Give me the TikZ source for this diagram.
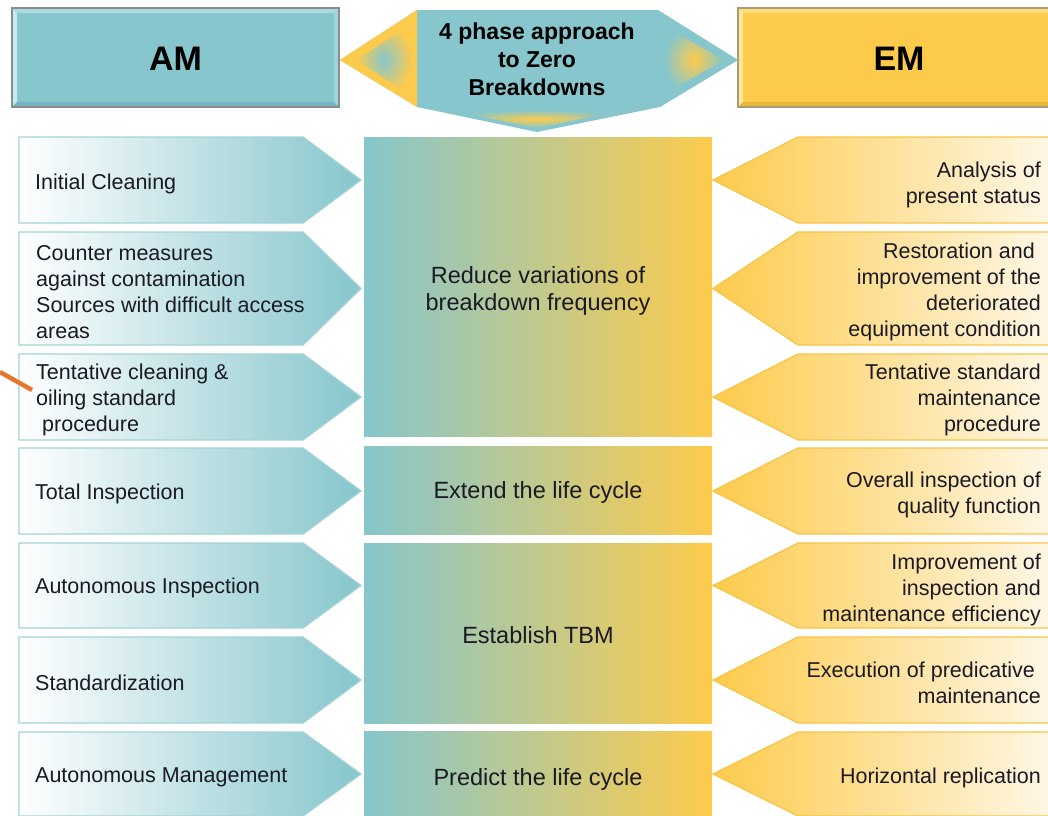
\documentclass[tikz,border=0pt]{standalone}
\usepackage{fontspec}
\setmainfont{Liberation Sans}
\definecolor{tealc}{HTML}{86C6CC}
\definecolor{yellowc}{HTML}{FDCB4C}
\definecolor{lightyel}{HTML}{FFF7E6}
\definecolor{txtc}{HTML}{1A1A24}
\definecolor{orangec}{HTML}{E8772E}
\definecolor{amborder}{HTML}{A3D3D7}
\definecolor{emborder}{HTML}{F6C54A}
\definecolor{amtop}{HTML}{A9DCE0}
\definecolor{amleft}{HTML}{C2ECEF}
\definecolor{amright}{HTML}{9FD6DB}
\definecolor{ambot}{HTML}{76B5BB}
\definecolor{amframe}{HTML}{8C8C8C}
\definecolor{emtop}{HTML}{FFDC78}
\definecolor{emleft}{HTML}{FFE79A}
\definecolor{embot}{HTML}{E9B63E}
\definecolor{emframe}{HTML}{A89C78}
\tikzset{
  amarrow/.style={draw=amborder, line width=1.3pt, left color=white, right color=tealc},
  emarrow/.style={draw=emborder, line width=1.3pt, left color=yellowc, right color=lightyel},
  ctrbox/.style={left color=tealc, right color=yellowc},
  sidetxt/.style={text=txtc, inner sep=0pt, font=\fontsize{21.5}{26}\selectfont},
  lefttxt/.style={sidetxt, anchor=west, align=left},
  righttxt/.style={sidetxt, anchor=east, align=right},
  ctrtxt/.style={text=txtc, inner sep=0pt, align=center, font=\fontsize{23.5}{27}\selectfont},
  headtxt/.style={text=black, inner sep=0pt, font=\bfseries\fontsize{34}{40}\selectfont},
  titletxt/.style={text=black, inner sep=0pt, align=center, font=\bfseries\fontsize{23}{28}\selectfont},
}
\begin{document}
\begin{tikzpicture}[x=1pt,y=-1pt]
\useasboundingbox (0,0) rectangle (1048,815);
\clip (0,0) rectangle (1048,815);
\fill[white] (0,0) rectangle (1048,815);

% ---------- AM header with bevel ----------
\fill[tealc] (12,8) rectangle (339,107);
\fill[amtop] (12,8) -- (339,8) -- (334,13) -- (17,13) -- cycle;
\fill[amleft] (12,8) -- (17,13) -- (17,102) -- (12,107) -- cycle;
\fill[amright] (339,8) -- (334,13) -- (334,102) -- (339,107) -- cycle;
\fill[ambot] (12,107) -- (17,102) -- (334,102) -- (339,107) -- cycle;
\draw[amframe, line width=1.2pt] (12,8) rectangle (339,107);
\node[headtxt] (am) at (175.5,59) {AM};

% ---------- EM header with bevel ----------
\fill[yellowc] (738,8) rectangle (1060,107);
\fill[emtop] (738,8) -- (1060,8) -- (1055,13) -- (743,13) -- cycle;
\fill[emleft] (738,8) -- (743,13) -- (743,102) -- (738,107) -- cycle;
\fill[embot] (738,107) -- (743,102) -- (1055,102) -- (1060,107) -- cycle;
\draw[emframe, line width=1.2pt] (738,8) rectangle (1060,107);
\node[headtxt] (em) at (899,59) {EM};

% ---------- Title shape ----------
\fill[tealc] (340,60) -- (417,10) -- (658,10) -- (738,60) -- (660,107) -- (537,132) -- (417,107) -- cycle;
\fill[yellowc] (340,60) -- (417,10) -- (417,107) -- cycle;
\shade[inner color=tealc, outer color=yellowc] (356,60) -- (412,24) -- (412,96) -- cycle;
\shade[inner color=yellowc, outer color=tealc] (664,26) -- (724,60) -- (664,94) -- cycle;
\shade[inner color=yellowc, outer color=tealc] (450,110) -- (624,110) -- (537,128) -- cycle;
\node[titletxt] (title) at (537,59) {4 phase approach\\to Zero\\Breakdowns};

% ---------- Centre boxes ----------
\shade[ctrbox] (364,137) rectangle (712,436);
\shade[ctrbox] (364,446) rectangle (712,534);
\shade[ctrbox] (364,543) rectangle (712,723);
\shade[ctrbox] (364,731) rectangle (712,830);
\node[ctrtxt] (c1) at (538,291) {Reduce variations of\\breakdown frequency};
\node[ctrtxt] (c2) at (538,492) {Extend the life cycle};
\node[ctrtxt] (c3) at (538,635) {Establish TBM};
\node[ctrtxt] (c4) at (538,779) {Predict the life cycle};

% ---------- AM arrows ----------
\shade[amarrow] (19,137) -- (303,137) -- (361,180) -- (303,223) -- (19,223) -- cycle;
\shade[amarrow] (19,232) -- (303,232) -- (361,288.5) -- (303,345) -- (19,345) -- cycle;
\shade[amarrow] (19,354) -- (303,354) -- (361,397) -- (303,440) -- (19,440) -- cycle;
\shade[amarrow] (19,448) -- (303,448) -- (361,491) -- (303,534) -- (19,534) -- cycle;
\shade[amarrow] (19,543) -- (303,543) -- (361,585.5) -- (303,628) -- (19,628) -- cycle;
\shade[amarrow] (19,637) -- (303,637) -- (361,680) -- (303,723) -- (19,723) -- cycle;
\shade[amarrow] (19,732) -- (303,732) -- (361,774) -- (303,816) -- (19,816) -- cycle;

\node[lefttxt] (a1) at (35,184) {Initial Cleaning};
\node[lefttxt] (a2) at (36,292) {Counter measures\\against contamination\\Sources with difficult access\\areas};
\node[lefttxt] (a3) at (36,400) {Tentative cleaning \&\\oiling standard\\\hspace*{6pt}procedure};
\node[lefttxt] (a4) at (35,494) {Total Inspection};
\node[lefttxt] (a5) at (35,588) {Autonomous Inspection};
\node[lefttxt] (a6) at (35,683) {Standardization};
\node[lefttxt] (a7) at (35,777) {Autonomous Management};

% ---------- EM arrows ----------
\shade[emarrow] (1052,137) -- (798,137) -- (713,180) -- (798,223) -- (1052,223) -- cycle;
\shade[emarrow] (1052,232) -- (798,232) -- (713,288.5) -- (798,345) -- (1052,345) -- cycle;
\shade[emarrow] (1052,354) -- (798,354) -- (713,397) -- (798,440) -- (1052,440) -- cycle;
\shade[emarrow] (1052,448) -- (798,448) -- (713,491) -- (798,534) -- (1052,534) -- cycle;
\shade[emarrow] (1052,543) -- (798,543) -- (713,585.5) -- (798,628) -- (1052,628) -- cycle;
\shade[emarrow] (1052,637) -- (798,637) -- (713,680) -- (798,723) -- (1052,723) -- cycle;
\shade[emarrow] (1052,732) -- (798,732) -- (713,774) -- (798,816) -- (1052,816) -- cycle;

\node[righttxt] (e1) at (1041,185) {Analysis of\\present status};
\node[righttxt] (e2) at (1041,292) {Restoration and\hspace*{6pt}\\improvement of the\hspace*{6pt}\\deteriorated\hspace*{6pt}\\equipment condition};
\node[righttxt] (e3) at (1041,400) {Tentative standard\\maintenance\hspace*{6pt}\\procedure};
\node[righttxt] (e4) at (1041,495) {Overall inspection of\\quality function};
\node[righttxt] (e5) at (1041,590) {Improvement of\\inspection and\hspace*{6pt}\\maintenance efficiency};
\node[righttxt] (e6) at (1041,683) {Execution of predicative\hspace*{6pt}\\maintenance};
\node[righttxt] (e7) at (1041,778) {Horizontal replication};

% ---------- orange pointer ----------
\coordinate (o1) at (0,372);
\coordinate (o2) at (32,390);
\draw[orangec, line width=4.5pt] (o1) -- (o2);
\end{tikzpicture}
\end{document}
